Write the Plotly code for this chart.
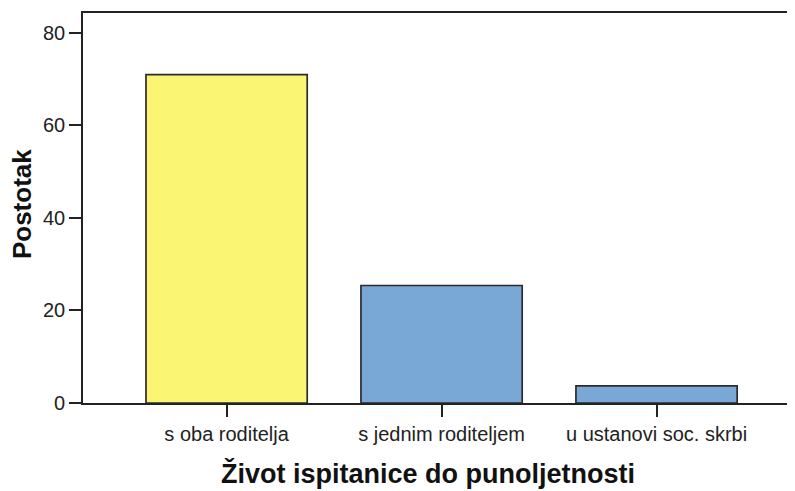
import plotly.graph_objects as go

categories = ["s oba roditelja", "s jednim roditeljem", "u ustanovi soc. skrbi"]
percentages = [71.0, 25.4, 3.7]
bar_colors = ["#FAF673", "#7AA8D6", "#7AA8D6"]
y_ticks = [0, 20, 40, 60, 80]
x_title = "Život ispitanice do punoljetnosti"
y_title = "Postotak"

fig = go.Figure(
    go.Bar(
        x=categories,
        y=percentages,
        width=0.75,
        marker=dict(color=bar_colors, line=dict(color="#2b2b2b", width=1.7)),
        hoverinfo="x+y",
    )
)

axis_style = dict(
    showline=True,
    linecolor="#222",
    linewidth=1.6,
    ticks="outside",
    ticklen=12,
    tickwidth=1.6,
    tickcolor="#222",
    tickfont=dict(size=20, color="#222"),
    showgrid=False,
    zeroline=False,
    automargin=False,
)

# the page body adds ~8px of offset, so margins are trimmed by that much
fig.update_layout(
    width=795,
    height=491,
    template="simple_white",
    paper_bgcolor="white",
    plot_bgcolor="white",
    margin=dict(l=75, r=8, t=5, b=96),
    showlegend=False,
    font=dict(family="Liberation Sans, Arial, sans-serif", color="#222"),
    xaxis=dict(axis_style, type="category", range=[-0.668, 2.644], mirror=True),
    yaxis=dict(axis_style, range=[0, 84.3], tickvals=y_ticks),
)

# axis titles as annotations so they sit where the original puts them
fig.add_annotation(
    text=f"<b>{x_title}</b>", xref="paper", yref="paper", x=0.485, y=-0.182,
    xanchor="center", yanchor="middle", showarrow=False,
    font=dict(size=27, color="#111"),
)
fig.add_annotation(
    text=f"<b>{y_title}</b>", xref="paper", yref="paper", x=-0.0857, y=0.51,
    xanchor="center", yanchor="middle", showarrow=False, textangle=-90,
    font=dict(size=26, color="#111"),
)

fig.write_html("out.html")
